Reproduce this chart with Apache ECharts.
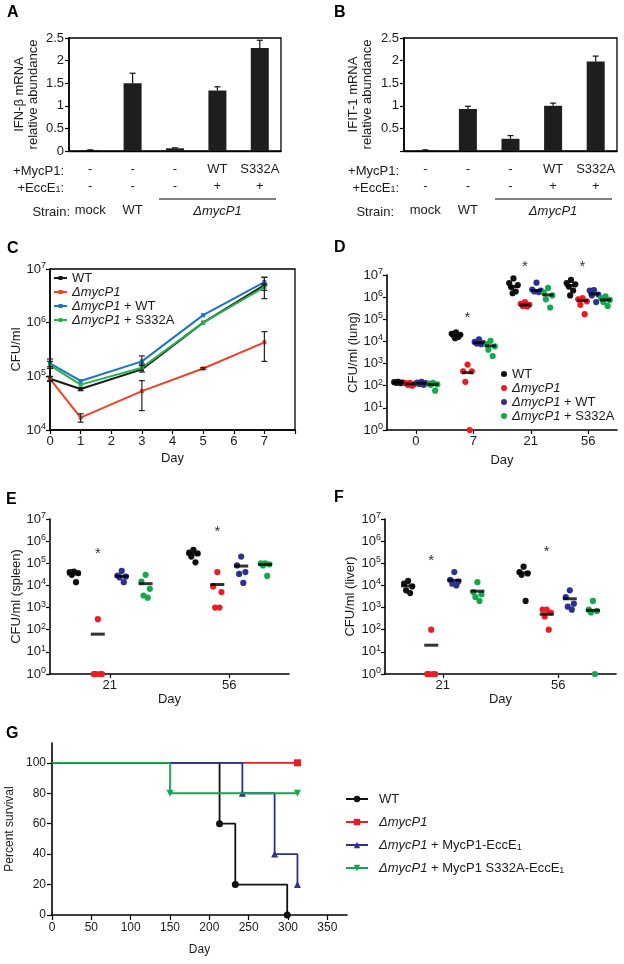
<!DOCTYPE html>
<html>
<head>
<meta charset="utf-8">
<script src="https://cdn.jsdelivr.net/npm/echarts@6.0.0/dist/echarts.min.js"></script>
<style>
html,body{margin:0;padding:0;background:#fff;}
#chart{width:624px;height:964px;}
</style>
</head>
<body>
<div id="chart"></div>
<script>
// ================= DATA =================
// Panels A & B (qRT-PCR)
const barCategories = ['mock', 'WT', 'ΔmycP1', 'ΔmycP1 + WT', 'ΔmycP1 + S332A'];
const rowMycP1 = ['-', '-', '-', 'WT', 'S332A'];
const rowEccE1 = ['-', '-', '-', '+', '+'];
const rowStrain = ['mock', 'WT', '', 'ΔmycP1', ''];
const ifnbMean = [0.02, 1.50, 0.06, 1.34, 2.28];
const ifnbErr  = [0.005, 0.22, 0.01, 0.08, 0.17];
const ifit1Mean = [0.02, 0.93, 0.27, 1.00, 1.98];
const ifit1Err  = [0.005, 0.06, 0.07, 0.06, 0.12];

// Panel C (growth in macrophages, CFU/ml)
const cDays = [0, 1, 3, 5, 7];
const cWT        = [9.0e4, 5.8e4, 1.35e5, 1.0e6, 5.0e6];
const cWTLow     = [8.3e4, 5.4e4, null, null, 2.8e6];
const cWTHigh    = [9.8e4, 6.2e4, null, null, 7.0e6];
const cDelta     = [9.0e4, 1.7e4, 5.3e4, 1.4e5, 4.3e5];
const cDeltaLow  = [8.0e4, 1.4e4, 2.3e4, 1.35e5, 1.9e5];
const cDeltaHigh = [1.0e5, 2.0e4, 8.3e4, 1.45e5, 6.8e5];
const cComp      = [1.75e5, 8.2e4, 1.9e5, 1.38e6, 5.7e6];
const cCompLow   = [1.5e5, null, 1.6e5, null, 5.0e6];
const cCompHigh  = [2.1e5, null, 2.4e5, null, 7.0e6];
const cS332A     = [1.6e5, 7.0e4, 1.45e5, 1.0e6, 4.6e6];
const cS332ALow  = [1.4e5, null, 1.2e5, null, 4.0e6];
const cS332AHigh = [1.9e5, null, 1.7e5, null, 5.3e6];

// Panel D (lung CFU) – one list per day
const dDays = ['0', '7', '21', '56'];
const dWT     = [[150, 145, 140, 135, 130, 150], [2.6e4, 2.2e4, 2.0e4, 1.8e4, 1.6e4, 1.4e4], [7.0e6, 4.3e6, 3.5e6, 2.8e6, 1.8e6, 1.5e6], [6.0e6, 4.3e6, 3.8e6, 3.0e6, 2.0e6, 1.2e6]];
const dDelta  = [[135, 130, 120, 110, 100], [900, 450, 450, 150, 1], [6.0e5, 5.0e5, 4.5e5, 4.0e5, 3.8e5], [9.0e5, 8.0e5, 6.5e5, 4.5e5, 1.7e5]];
const dComp   = [[150, 140, 130, 120, 110], [1.25e4, 9.5e3, 8.5e3, 8.0e3, 7.5e3], [4.5e6, 2.2e6, 2.0e6, 1.8e6, 1.7e6], [2.1e6, 2.0e6, 1.3e6, 1.2e6, 6.0e5]];
const dS332A  = [[135, 125, 115, 110, 60], [1.07e4, 7.5e3, 6.0e3, 4.2e3, 2.2e3], [2.6e6, 1.6e6, 1.2e6, 8.0e5, 3.4e5], [1.1e6, 9.0e5, 7.5e5, 6.0e5, 4.0e5]];
const dWTMed    = [140, 1.9e4, 3.0e6, 3.3e6];
const dDeltaMed = [120, 390, 4.4e5, 7.0e5];
const dCompMed  = [130, 8.7e3, 2.0e6, 1.4e6];
const dS332AMed = [115, 6.3e3, 1.26e6, 7.5e5];
const dStarDays = [1, 2, 3];
const dStarLevels = [1.2e5, 2.3e7, 2.3e7];

// Panel E (spleen CFU)
const eDays = ['21', '56'];
const eWT     = [[4.2e4, 4.0e4, 3.6e4, 3.0e4, 1.4e4], [4.0e5, 3.0e5, 2.8e5, 2.0e5, 1.1e5]];
const eDelta  = [[300, 1, 1, 1, 1], [4.0e4, 9.0e3, 5.0e3, 1.0e3, 1.0e3]];
const eComp   = [[4.5e4, 2.8e4, 2.5e4, 2.3e4, 1.4e4], [2.0e5, 8.0e4, 4.0e4, 3.3e4, 1.3e4]];
const eS332A  = [[3.0e4, 1.5e4, 7.0e3, 3.5e3, 2.8e3], [1.0e5, 1.0e5, 9.0e4, 8.0e4, 2.7e4]];
const eWTMed    = [3.3e4, 2.6e5];
const eDeltaMed = [63, 1.1e4];
const eCompMed  = [2.6e4, 7.5e4];
const eS332AMed = [1.2e4, 8.8e4];
const eStarDays = [0, 1];
const eStarLevels = [2.6e5, 2.6e6];

// Panel F (liver CFU)
const fDays = ['21', '56'];
const fWT     = [[1.6e4, 1.2e4, 9.0e3, 6.0e3, 4.5e3], [7.0e4, 4.0e4, 3.5e4, 3.0e4, 2.0e3]];
const fDelta  = [[100, 1, 1, 1, 1], [800, 800, 600, 400, 100]];
const fComp   = [[4.0e4, 1.8e4, 1.5e4, 1.2e4, 1.0e4], [6.0e3, 3.0e3, 1.5e3, 1.1e3, 800]];
const fS332A  = [[1.4e4, 5.0e3, 4.0e3, 3.0e3, 2.0e3], [2.0e3, 800, 700, 600, 1]];
const fWTMed    = [9.5e3, 3.7e4];
const fDeltaMed = [20, 500];
const fCompMed  = [1.7e4, 2.5e3];
const fS332AMed = [5.5e3, 750];
const fStarDays = [0, 1];
const fStarLevels = [1.27e5, 3.2e5];

// Panel G (survival)
const gWTDays = [0, 213, 233, 299];      const gWTSurv = [100, 60, 20, 0];
const gDeltaDays = [0, 312];             const gDeltaSurv = [100, 100];
const gCompDays = [0, 242, 283, 312];    const gCompSurv = [100, 80, 40, 20];
const gS332ADays = [0, 150, 312];        const gS332ASurv = [100, 80, 80];
const gXTicks = [0, 50, 100, 150, 200, 250, 300, 350];
const gYTicks = [0, 20, 40, 60, 80, 100];

// Legend labels
const LABELS = {
  c0: 'WT', c1: '{i|ΔmycP1}', c2: '{i|ΔmycP1} + WT', c3: '{i|ΔmycP1} + S332A',
  d0: 'WT', d1: '{i|ΔmycP1}', d2: '{i|ΔmycP1} + WT', d3: '{i|ΔmycP1} + S332A',
  g0: 'WT', g1: '{i|ΔmycP1}', g2: '{i|ΔmycP1} + MycP1-EccE{s|1}', g3: '{i|ΔmycP1} + MycP1 S332A-EccE{s|1}'
};

// ================= STYLE =================
const FONT = '"Liberation Sans", Arial, Helvetica, sans-serif';
const INK = '#1a1a1a';
const C_COLORS = ['#1a1a1a', '#ef4123', '#1c75c4', '#27b24a'];
const DOT_COLORS = ['#111111', '#ec1c24', '#2e3192', '#12a84b'];
const G_COLORS = ['#111111', '#ec1c24', '#2e3192', '#12a84b'];
const GROUP_OFFSETS = [-0.3, -0.1, 0.1, 0.3];
const JITTER = [0, -1, 1, -0.5, 0.5, -0.2];

const chart = echarts.init(document.getElementById('chart'), null, {width: 624, height: 964});

function ts(size, extra) { return Object.assign({fontFamily: FONT, fontSize: size, color: INK}, extra || {}); }
const italicRich = {i: {fontFamily: FONT, fontSize: 13, color: INK, fontStyle: 'italic', lineHeight: 14}, s: {fontFamily: FONT, fontSize: 9, color: INK, lineHeight: 6, verticalAlign: 'bottom'}};
const supRich = {b: {fontFamily: FONT, fontSize: 13, color: INK, lineHeight: 16}, s: {fontFamily: FONT, fontSize: 9, color: INK, lineHeight: 7, verticalAlign: 'top'}};
const AX_LINE = {show: true, onZero: false, lineStyle: {color: '#000', width: 1.6}};
const AX_TICK = {show: true, length: 4, lineStyle: {color: '#000', width: 1.2}};

// ---------- axes ----------
const grids = [
  {left: 69, top: 38, width: 212, height: 113, show: true, borderColor: '#000', borderWidth: 1.3},
  {left: 404, top: 38, width: 213, height: 113, show: true, borderColor: '#000', borderWidth: 1.3},
  {left: 50, top: 269, width: 245, height: 161, show: true, borderColor: '#000', borderWidth: 1.3},
  {left: 387, top: 275, width: 230, height: 155},
  {left: 50, top: 519, width: 239, height: 155},
  {left: 385, top: 519, width: 231, height: 155},
  {left: 52, top: 743, width: 295, height: 172}
];

function barMainX(gi) {
  return {type: 'category', gridIndex: gi, position: 'bottom', data: barCategories,
    axisLine: {show: true, lineStyle: {color: '#000', width: 1.3}}, axisTick: {show: false}, axisLabel: {show: false}};
}
function rowX(gi, data, offset) {
  return {type: 'category', gridIndex: gi, position: 'bottom', offset: offset, data: data,
    axisLine: {show: false}, axisTick: {show: false}, splitLine: {show: false},
    axisLabel: Object.assign(ts(13), {interval: 0, margin: 7,
      formatter: v => v.indexOf('Δ') === 0 ? '{i|' + v + '}' : v, rich: italicRich})};
}
function dayX(gi, labels, gap) {
  const t = labels.map((_, i) => i + 0.5);
  return {type: 'value', gridIndex: gi, position: 'bottom', min: 0, max: labels.length,
    axisLine: AX_LINE, axisTick: Object.assign({}, AX_TICK, {customValues: t}),
    splitLine: {show: false},
    axisLabel: Object.assign(ts(13), {customValues: t, margin: 5, formatter: v => labels[Math.floor(v)]}),
    name: 'Day', nameLocation: 'middle', nameGap: gap, nameTextStyle: ts(13)};
}
function logY(gi, lo, hi, name, gap) {
  return {type: 'log', logBase: 10, gridIndex: gi, min: Math.pow(10, lo), max: Math.pow(10, hi),
    axisLine: AX_LINE, axisTick: AX_TICK, splitLine: {show: false}, minorTick: {show: false},
    axisLabel: {margin: 4, formatter: v => '{b|10}{s|' + Math.round(Math.log10(v)) + '}', rich: supRich},
    name: name, nameLocation: 'middle', nameGap: gap, nameTextStyle: ts(13)};
}

const xAxes = [
  barMainX(0), rowX(0, rowMycP1, 5), rowX(0, rowEccE1, 22), rowX(0, rowStrain, 46),
  barMainX(1), rowX(1, rowMycP1, 5), rowX(1, rowEccE1, 22), rowX(1, rowStrain, 46),
  {type: 'value', gridIndex: 2, position: 'bottom', min: 0, max: 8, interval: 1,
    axisLine: AX_LINE, axisTick: AX_TICK, splitLine: {show: false},
    axisLabel: Object.assign(ts(13), {margin: 5, formatter: v => v === 8 ? '' : String(v)}),
    name: 'Day', nameLocation: 'middle', nameGap: 22, nameTextStyle: ts(13)},
  dayX(3, dDays, 24),
  dayX(4, eDays, 19),
  dayX(5, fDays, 19),
  {type: 'value', gridIndex: 6, position: 'bottom', min: 0, max: 375,
    axisLine: AX_LINE, axisTick: Object.assign({}, AX_TICK, {length: 5, customValues: gXTicks}),
    splitLine: {show: false},
    axisLabel: Object.assign(ts(12), {margin: 7, customValues: gXTicks}),
    name: 'Day', nameLocation: 'middle', nameGap: 29, nameTextStyle: ts(12)}
];

const yAxes = [
  {type: 'value', gridIndex: 0, min: 0, max: 2.5, interval: 0.5,
    axisLine: AX_LINE, axisTick: AX_TICK, splitLine: {show: false},
    axisLabel: Object.assign(ts(13), {margin: 5}),
    name: 'IFN-β mRNA\nrelative abundance', nameLocation: 'middle', nameGap: 29,
    nameTextStyle: ts(13, {lineHeight: 14})},
  {type: 'value', gridIndex: 1, min: 0, max: 2.5, interval: 0.5,
    axisLine: AX_LINE, axisTick: AX_TICK, splitLine: {show: false},
    axisLabel: Object.assign(ts(13), {margin: 5, formatter: v => v === 0 ? '' : String(v)}),
    name: 'IFIT-1 mRNA\nrelative abundance', nameLocation: 'middle', nameGap: 30,
    nameTextStyle: ts(13, {lineHeight: 14})},
  logY(2, 4, 7, 'CFU/ml', 26),
  logY(3, 0, 7, 'CFU/ml (lung)', 26),
  logY(4, 0, 7, 'CFU/ml (spleen)', 25),
  logY(5, 0, 7, 'CFU/ml (liver)', 28),
  {type: 'value', gridIndex: 6, min: 0, max: 113,
    axisLine: AX_LINE, axisTick: Object.assign({}, AX_TICK, {length: 5, customValues: gYTicks}),
    splitLine: {show: false},
    axisLabel: Object.assign(ts(12), {margin: 6, customValues: gYTicks}),
    name: 'Percent survival', nameLocation: 'middle', nameGap: 36, nameTextStyle: ts(12)}
];

// ---------- series ----------
const series = [];

function barSeries(xi, yi, means, errs) {
  series.push({type: 'bar', xAxisIndex: xi, yAxisIndex: yi, data: means, barWidth: 18,
    itemStyle: {color: '#1e1e1e'}, silent: true, z: 2});
  series.push({type: 'custom', xAxisIndex: xi, yAxisIndex: yi, z: 5, silent: true,
    data: means.map((m, i) => [i, m, m + errs[i]]),
    renderItem: (params, api) => {
      const p0 = api.coord([api.value(0), api.value(1)]);
      const p1 = api.coord([api.value(0), api.value(2)]);
      const st = {stroke: '#111', lineWidth: 1.2};
      return {type: 'group', children: [
        {type: 'line', shape: {x1: p0[0], y1: p0[1], x2: p1[0], y2: p1[1]}, style: st},
        {type: 'line', shape: {x1: p1[0] - 3, y1: p1[1], x2: p1[0] + 3, y2: p1[1]}, style: st}
      ]};
    }});
}
barSeries(0, 0, ifnbMean, ifnbErr);
barSeries(4, 1, ifit1Mean, ifit1Err);

// Panel C
const cSets = [[cWT, cWTLow, cWTHigh], [cDelta, cDeltaLow, cDeltaHigh], [cComp, cCompLow, cCompHigh], [cS332A, cS332ALow, cS332AHigh]];
cSets.forEach((set, k) => {
  series.push({type: 'line', name: 'c' + k, xAxisIndex: 8, yAxisIndex: 2,
    data: cDays.map((d, i) => [d, set[0][i]]),
    symbol: 'rect', symbolSize: 4, showSymbol: true,
    lineStyle: {color: C_COLORS[k], width: 2}, itemStyle: {color: C_COLORS[k]}, z: 3 + k, silent: true});
});
cSets.forEach((set, k) => {
  const data = [];
  cDays.forEach((d, i) => { if (set[1][i] != null) data.push([d, set[1][i], set[2][i]]); });
  series.push({type: 'custom', xAxisIndex: 8, yAxisIndex: 2, z: 10, silent: true, data: data,
    renderItem: (params, api) => {
      const lo = api.coord([api.value(0), api.value(1)]);
      const hi = api.coord([api.value(0), api.value(2)]);
      const st = {stroke: '#222', lineWidth: 1.2};
      return {type: 'group', children: [
        {type: 'line', shape: {x1: lo[0], y1: lo[1], x2: hi[0], y2: hi[1]}, style: st},
        {type: 'line', shape: {x1: lo[0] - 3, y1: lo[1], x2: lo[0] + 3, y2: lo[1]}, style: st},
        {type: 'line', shape: {x1: hi[0] - 3, y1: hi[1], x2: hi[0] + 3, y2: hi[1]}, style: st}
      ]};
    }});
});

// Dot plots D, E, F
function dotPanel(prefix, xi, yi, groups, medians, jit, medW, starDays, starLevels) {
  groups.forEach((g, gi) => {
    const pts = [];
    g.forEach((vals, d) => vals.forEach((v, k) => pts.push([d + 0.5 + GROUP_OFFSETS[gi] + JITTER[k % JITTER.length] * jit, v])));
    series.push({type: 'scatter', name: prefix ? prefix + gi : undefined, xAxisIndex: xi, yAxisIndex: yi,
      data: pts, symbol: 'circle', symbolSize: 6.2, clip: false, silent: true,
      itemStyle: {color: DOT_COLORS[gi], opacity: 1}, z: 3});
  });
  medians.forEach((m, gi) => {
    series.push({type: 'scatter', xAxisIndex: xi, yAxisIndex: yi, clip: false, silent: true,
      data: m.map((v, d) => [d + 0.5 + GROUP_OFFSETS[gi], v]),
      symbol: 'rect', symbolSize: [medW, 3], itemStyle: {color: '#000'}, z: 4});
  });
  series.push({type: 'custom', xAxisIndex: xi, yAxisIndex: yi, silent: true, z: 5,
    data: starDays.map((d, i) => [d + 0.5 + GROUP_OFFSETS[1], starLevels[i]]),
    renderItem: (params, api) => {
      const p = api.coord([api.value(0), api.value(1)]);
      return {type: 'text', x: p[0], y: p[1], style: {text: '*', font: '15px ' + FONT, fill: '#333', align: 'center', verticalAlign: 'middle'}};
    }});
}
dotPanel('d', 9, 3, [dWT, dDelta, dComp, dS332A], [dWTMed, dDeltaMed, dCompMed, dS332AMed], 0.075, 11, dStarDays, dStarLevels);
dotPanel(null, 10, 4, [eWT, eDelta, eComp, eS332A], [eWTMed, eDeltaMed, eCompMed, eS332AMed], 0.035, 14, eStarDays, eStarLevels);
dotPanel(null, 11, 5, [fWT, fDelta, fComp, fS332A], [fWTMed, fDeltaMed, fCompMed, fS332AMed], 0.035, 14, fStarDays, fStarLevels);

// Panel G
const DOWN_TRI = 'path://M0,0L10,0L5,9Z';
const gSets = [[gWTDays, gWTSurv, 'circle', 7], [gDeltaDays, gDeltaSurv, 'rect', 7], [gCompDays, gCompSurv, 'triangle', 7], [gS332ADays, gS332ASurv, DOWN_TRI, 7]];
gSets.forEach((s, k) => {
  series.push({type: 'line', name: 'g' + k, xAxisIndex: 12, yAxisIndex: 6, step: 'end',
    data: s[0].map((d, i) => i === 0 ? {value: [d, s[1][i]], symbol: 'none'} : [d, s[1][i]]),
    symbol: s[2], symbolSize: s[3], showSymbol: true, clip: false, silent: true,
    lineStyle: {color: G_COLORS[k], width: 1.8}, itemStyle: {color: G_COLORS[k]}, z: 3 + k});
});

// ---------- legends ----------
const legendText = (extra) => Object.assign(ts(13, {lineHeight: 14}), {rich: italicRich}, extra || {});
const legends = [
  {data: ['c0', 'c1', 'c2', 'c3'], orient: 'vertical', left: 53, top: 271, padding: 0,
    itemWidth: 13, itemHeight: 5, itemGap: 0, selectedMode: false,
    formatter: n => LABELS[n], textStyle: legendText()},
  {data: ['d0', 'd1', 'd2', 'd3'], orient: 'vertical', left: 501, top: 367, padding: 0,
    itemWidth: 6, itemHeight: 6, itemGap: 0, selectedMode: false, icon: 'circle',
    formatter: n => LABELS[n], textStyle: legendText()},
  {data: ['g0', 'g1', 'g2', 'g3'], orient: 'vertical', left: 345, top: 792, padding: 0,
    itemWidth: 22, itemHeight: 8, itemGap: 9, selectedMode: false,
    formatter: n => LABELS[n], textStyle: legendText({padding: [0, 0, 0, 6]})}
];

// ---------- text annotations ----------
function letter(t, x, y) {
  return {type: 'text', style: {text: t, x: x, y: y, font: 'bold 16px ' + FONT, fill: '#000', textVerticalAlign: 'middle'}};
}
function label(t, x, y, align) {
  return {type: 'text', style: {text: t, x: x, y: y, font: '13px ' + FONT, fill: INK, textAlign: align || 'right', textVerticalAlign: 'middle',
    rich: {s: {fontFamily: FONT, fontSize: 9, fill: INK, lineHeight: 6, verticalAlign: 'bottom'}}}};
}
const graphics = [
  letter('A', 7, 13), letter('B', 334, 13), letter('C', 7, 249), letter('D', 334, 248),
  letter('E', 6, 500), letter('F', 334, 498), letter('G', 6, 734),
  label('+MycP1:', 64, 171), label('+EccE{s|1}:', 64, 188), label('Strain:', 70, 212),
  label('+MycP1:', 399, 171), label('+EccE{s|1}:', 399, 188), label('Strain:', 394, 212),
  {type: 'line', shape: {x1: 159, y1: 199, x2: 276, y2: 199}, style: {stroke: '#000', lineWidth: 1.2}},
  {type: 'line', shape: {x1: 495, y1: 199, x2: 612, y2: 199}, style: {stroke: '#000', lineWidth: 1.2}}
];

chart.setOption({
  animation: false,
  backgroundColor: '#fff',
  textStyle: {fontFamily: FONT},
  grid: grids,
  xAxis: xAxes,
  yAxis: yAxes,
  legend: legends,
  series: series,
  graphic: graphics
});
</script>
</body>
</html>
